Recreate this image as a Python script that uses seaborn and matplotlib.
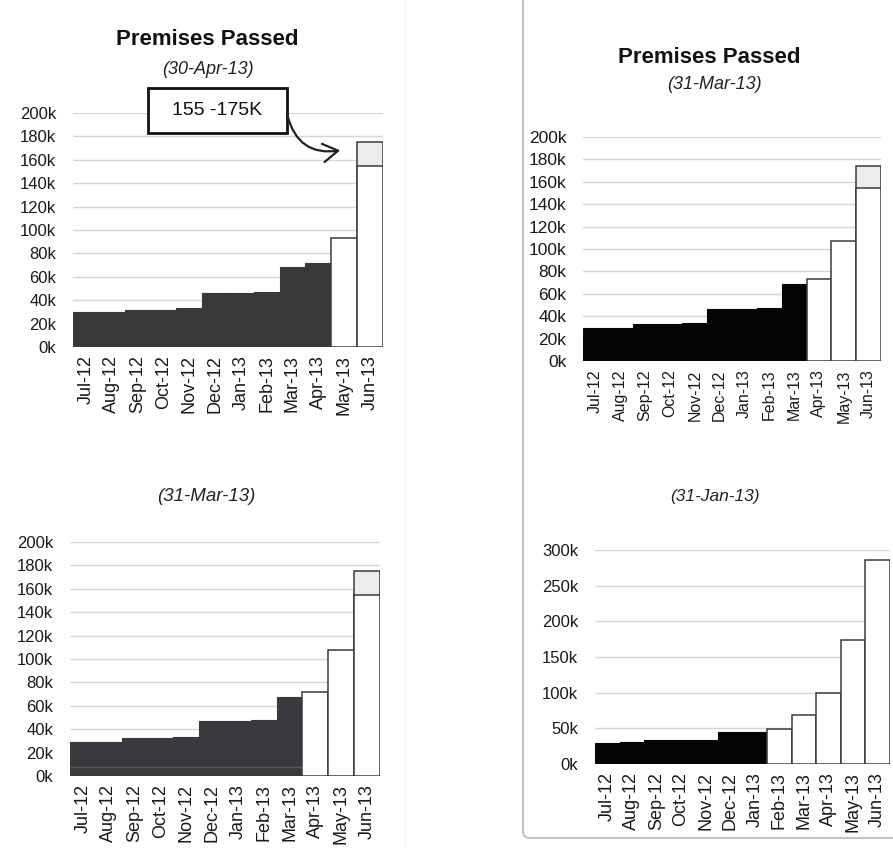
import numpy as np
import pandas as pd
import matplotlib
matplotlib.use("Agg")
import matplotlib.pyplot as plt
from matplotlib.patches import FancyBboxPatch, Rectangle
from matplotlib.ticker import FuncFormatter
import seaborn as sns

# ---- data (values in premises) ----
months = ['Jul-12', 'Aug-12', 'Sep-12', 'Oct-12', 'Nov-12', 'Dec-12',
          'Jan-13', 'Feb-13', 'Mar-13', 'Apr-13', 'May-13', 'Jun-13']

# 30-Apr-13 view: actuals through Apr-13, forecast after
apr13_values = [29500, 29500, 32000, 32000, 33000, 46000,
                46000, 47000, 68000, 71500, 93000, 155000]
apr13_n_actual = 10
apr13_range_top = 175000      # Jun-13 range 155-175K

# 31-Mar-13 view (top right)
mar13a_values = [29700, 29700, 32700, 32700, 33600, 46000,
                 46000, 47500, 68400, 72800, 107000, 154000]
mar13a_n_actual = 9
mar13a_range_top = 174500

# 31-Mar-13 view (bottom left)
mar13b_values = [29400, 29400, 32800, 32800, 33700, 46800,
                 46800, 47900, 67900, 71900, 107600, 155000]
mar13b_n_actual = 9
mar13b_range_top = 175000
mar13b_low_line = 8000        # thin red line across the actual bars

# 31-Jan-13 view
jan13_values = [30000, 30300, 33300, 33300, 33300, 45500,
                45500, 49200, 68400, 99800, 174000, 286000]
jan13_n_actual = 7

sns.set_theme(style="white")
plt.rcParams['font.family'] = ['Liberation Sans', 'DejaVu Sans']

fig = plt.figure(figsize=(8.93, 8.48), dpi=100)


def draw_panel(rect, values, n_actual, dark, ymax, ystep, range_top=None,
               ysize=11.5, xsize=13):
    ax = fig.add_axes(rect)
    if range_top is not None:
        rng = pd.DataFrame({'month': [months[-1]], 'value': [range_top]})
        sns.barplot(data=rng, x='month', y='value', order=months, width=1,
                    color='#ececec', saturation=1, edgecolor='#3a3a3a',
                    linewidth=1.1, errorbar=None, ax=ax)
    n_before = len(ax.patches)
    df = pd.DataFrame({'month': months, 'value': values})
    colors = [dark if i < n_actual else 'white' for i in range(len(months))]
    sns.barplot(data=df, x='month', y='value', hue='month', order=months,
                palette=colors, saturation=1, width=1, legend=False,
                errorbar=None, ax=ax)
    for i, p in enumerate(ax.patches[n_before:]):
        if i < n_actual:
            p.set_edgecolor(dark)
            p.set_linewidth(0.8)
        else:
            p.set_edgecolor('#3a3a3a')
            p.set_linewidth(1.1)
    ax.set_xlim(-0.5, len(months) - 0.5)
    ax.set_ylim(0, ymax)
    ax.set_yticks(np.arange(0, ymax + 1, ystep))
    ax.yaxis.set_major_formatter(FuncFormatter(lambda v, _: f"{int(v / 1000)}k"))
    ax.yaxis.grid(True, color='#d6d6d6', linewidth=1)
    ax.set_axisbelow(True)
    sns.despine(ax=ax, left=True, bottom=True)
    ax.set_xlabel('')
    ax.set_ylabel('')
    ax.tick_params(axis='y', length=0, pad=12, labelsize=ysize, colors='#1a1a1a')
    ax.tick_params(axis='x', length=0, pad=6, labelsize=xsize, colors='#1a1a1a')
    plt.setp(ax.get_xticklabels(), rotation=90)
    return ax


# top left
ax1 = draw_panel([0.0817, 0.5908, 0.347, 0.276], apr13_values, apr13_n_actual,
                 '#383838', 200000, 20000, apr13_range_top, ysize=12, xsize=13)
ax1.add_patch(Rectangle((0.242, 0.9145), 0.448, 0.1925, transform=ax1.transAxes,
                        fill=True, fc='white', ec='#111111', lw=2, clip_on=False))
ax1.text(0.466, 1.011, '155 -175K', transform=ax1.transAxes, ha='center',
         va='center', fontsize=14, color='#111111')
ax1.annotate('', xy=(9.85, 168000), xycoords='data',
             xytext=(0.692, 0.99), textcoords='axes fraction',
             arrowprops=dict(arrowstyle='->,head_length=0.9,head_width=0.55',
                             color='#222222', lw=1.6, shrinkA=0, shrinkB=0,
                             connectionstyle='arc3,rad=0.45'),
             annotation_clip=False)

# top right
ax2 = draw_panel([0.6529, 0.5743, 0.3337, 0.2642], mar13a_values, mar13a_n_actual,
                 '#050505', 200000, 20000, mar13a_range_top, ysize=12.5, xsize=11.5)

# bottom left
ax3 = draw_panel([0.0784, 0.0849, 0.347, 0.276], mar13b_values, mar13b_n_actual,
                 '#3a3a3e', 200000, 20000, mar13b_range_top, ysize=12, xsize=13)
ax3.hlines(mar13b_low_line, -0.5, mar13b_n_actual - 0.5, color='#8a4450', lw=1)

# bottom right
ax4 = draw_panel([0.6663, 0.0991, 0.3303, 0.2524], jan13_values, jan13_n_actual,
                 '#050505', 300000, 50000, ysize=12, xsize=13)

# titles
fig.text(0.2324, 0.953, 'Premises Passed', ha='center', va='center',
         fontsize=16, fontweight='bold', color='#111111')
fig.text(0.2324, 0.9175, '(30-Apr-13)', ha='center', va='center',
         fontsize=13, style='italic', color='#222222')
fig.text(0.794, 0.932, 'Premises Passed', ha='center', va='center',
         fontsize=16, fontweight='bold', color='#111111')
fig.text(0.7996, 0.900, '(31-Mar-13)', ha='center', va='center',
         fontsize=13, style='italic', color='#222222')
fig.text(0.2305, 0.414, '(31-Mar-13)', ha='center', va='center',
         fontsize=13.5, style='italic', color='#222222')
fig.text(0.8007, 0.414, '(31-Jan-13)', ha='center', va='center',
         fontsize=12.5, style='italic', color='#222222')

# panel frames
frame = FancyBboxPatch((523 / 893, 10 / 848), 400 / 893, 900 / 848,
                       boxstyle='round,pad=0,rounding_size=0.008',
                       transform=fig.transFigure, fill=False,
                       ec='#c4c4c4', lw=1.6, clip_on=False)
fig.patches.append(frame)
fig.add_artist(plt.Line2D([405 / 893, 405 / 893], [0, 1], transform=fig.transFigure,
                          color='#f2f2f2', lw=1))

fig.savefig('out.png', dpi=100)
